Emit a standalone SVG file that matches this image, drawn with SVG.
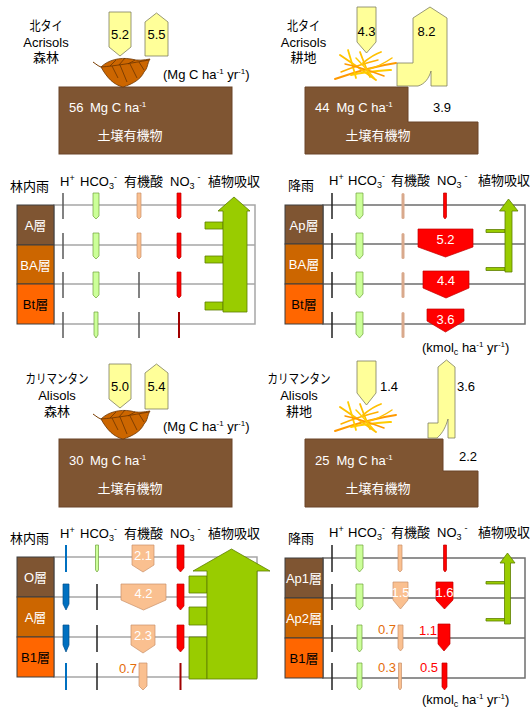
<svg xmlns="http://www.w3.org/2000/svg" width="532" height="710" viewBox="0 0 532 710">
<style>
text { font-family: "Liberation Sans", "Noto Sans CJK JP", sans-serif; font-size: 13px; fill: #000; }
.w { fill: #fff; }
.sm { font-size: 8px; }
.sb { font-size: 9px; }
.c { text-anchor: middle; }
.e { text-anchor: end; }
.or { fill: #E46C0A; }
.rt { fill: #FF0000; }
.soil { fill: #7F5532; stroke: #6B4428; stroke-width: 1; }
.hz { stroke: #3F3F3F; stroke-width: 1; }
.hz-a { fill: #7F5532; }
.hz-b { fill: #CC6600; }
.hz-c { fill: #FF6600; }
.yel { fill: #FFFF99; stroke: #7F7F5F; stroke-width: 0.8; }
.grn { fill: #99CC00; stroke: #5E7F00; stroke-width: 0.8; }
.hco { fill: #CCFF99; stroke: #6FA03A; stroke-width: 0.7; }
.org { fill: #FAC090; stroke: #C8906A; stroke-width: 0.7; }
.tan { fill: #D9A98C; }
.red { fill: #FF0000; stroke: #C00000; stroke-width: 0.7; }
.blu { fill: #0070C0; stroke: #004E8A; stroke-width: 0.7; }
.gl { stroke: #A6A6A6; stroke-width: 1.5; fill: none; }
.gd { stroke: #6E6E6E; stroke-width: 1.5; fill: none; }
.k { stroke: #222; stroke-width: 1.5; fill: none; }
.dg { stroke: #5A5A5A; stroke-width: 1.5; fill: none; }
.dr { stroke: #A00000; stroke-width: 2; fill: none; }
.bl { stroke: #0070C0; stroke-width: 2; fill: none; }
</style>
<defs>
  <!-- fallen leaf litter -->
  <g id="leaf">
    <path d="M93,62 C96,64 98,66 101,67" fill="none" stroke="#7A3D00" stroke-width="1"/>
    <path d="M101,67 C108,60 120,57 131,59 C138,61 144,60 150,59 C147,64 148,68 144,72 C141,79 133,84 123,87 C114,85 107,78 101,67 Z" fill="#CC6600" stroke="#6B3300" stroke-width="0.8"/>
    <path d="M101,67 C115,66 132,63 149,60 M110,66 L116,60 M119,65 L125,58 M128,64 L135,60 M112,66 L118,78 M120,65 L127,82 M130,64 L137,78 M139,62 L144,70" fill="none" stroke="#6B3300" stroke-width="0.8"/>
  </g>
  <!-- crop residue straw -->
  <g id="straw" fill="none" stroke-linecap="round">
    <path d="M335,79 C355,72 375,66 396,63" stroke="#FF9900" stroke-width="2"/>
    <path d="M340,55 C352,63 365,72 376,80" stroke="#FFC000" stroke-width="2"/>
    <path d="M348,50 C351,60 354,70 356,78" stroke="#FFCC00" stroke-width="1.8"/>
    <path d="M363,63 C369,58 375,54 381,52" stroke="#FFC000" stroke-width="1.8"/>
    <path d="M351,75 C364,72 378,71 391,70" stroke="#FFCC00" stroke-width="2"/>
    <path d="M341,72 C353,67 366,63 378,60" stroke="#FFB000" stroke-width="1.5"/>
    <path d="M360,52 C363,60 366,68 370,77" stroke="#FFC000" stroke-width="1.8"/>
    <path d="M345,64 C356,66 368,70 384,76" stroke="#FF9900" stroke-width="1.5"/>
    <path d="M356,58 C362,64 368,71 374,78" stroke="#FFCC00" stroke-width="1.5"/>
    <path d="M366,70 C374,68 382,65 392,58" stroke="#FFC000" stroke-width="1.5"/>
  </g>
</defs>

<!-- ===== Carbon budgets ===== -->
<g id="site-thai-forest">
  <text class="c" x="46" y="30" font-size="12" textLength="33" lengthAdjust="spacingAndGlyphs">北タイ</text>
  <text class="c" x="46" y="47">Acrisols</text>
  <text class="c" x="46" y="62" font-size="12.5">森林</text>
</g>
<g id="soil-thai-forest">
  <rect class="soil" x="59" y="87" width="173" height="67"/>
  <text class="w" x="69" y="112">56<tspan x="90">Mg C ha</tspan><tspan class="sm" dy="-5">-1</tspan></text>
  <text class="w c" x="130" y="140">土壌有機物</text>
</g>
<use id="litter-thai-forest" href="#leaf"/>
<text x="163" y="79">(Mg C ha<tspan class="sm" dy="-5">-1</tspan><tspan dy="5"> yr</tspan><tspan class="sm" dy="-5">-1</tspan><tspan dy="5">)</tspan></text>

<g id="site-thai-field">
  <text class="c" x="303.5" y="30" font-size="12" textLength="33" lengthAdjust="spacingAndGlyphs">北タイ</text>
  <text class="c" x="303.5" y="47">Acrisols</text>
  <text class="c" x="303.5" y="62" font-size="12.5">耕地</text>
</g>
<g id="soil-thai-field">
  <path class="soil" d="M305,87 H408 V122 H478 V154 H305 Z"/>
  <text class="w" x="315" y="112">44<tspan x="336.5">Mg C ha</tspan><tspan class="sm" dy="-5">-1</tspan></text>
  <text class="w c" x="378" y="140">土壌有機物</text>
  <text class="c" x="442" y="112">3.9</text>
</g>
<use id="litter-thai-field" href="#straw"/>

<g id="site-kali-forest">
  <text class="c" x="57" y="383" font-size="12" textLength="63" lengthAdjust="spacingAndGlyphs">カリマンタン</text>
  <text class="c" x="57" y="400">Alisols</text>
  <text class="c" x="57" y="416" font-size="12.5">森林</text>
</g>
<g id="soil-kali-forest">
  <rect class="soil" x="59" y="439" width="173" height="68"/>
  <text class="w" x="69" y="465">30<tspan x="90">Mg C ha</tspan><tspan class="sm" dy="-5">-1</tspan></text>
  <text class="w c" x="130" y="493">土壌有機物</text>
</g>
<use id="litter-kali-forest" href="#leaf" y="352"/>
<text x="163" y="431">(Mg C ha<tspan class="sm" dy="-5">-1</tspan><tspan dy="5"> yr</tspan><tspan class="sm" dy="-5">-1</tspan><tspan dy="5">)</tspan></text>

<g id="site-kali-field">
  <text class="c" x="299" y="383" font-size="12" textLength="63" lengthAdjust="spacingAndGlyphs">カリマンタン</text>
  <text class="c" x="299" y="400">Alisols</text>
  <text class="c" x="299" y="416" font-size="12.5">耕地</text>
</g>
<g id="soil-kali-field">
  <path class="soil" d="M305,439 H443 V471 H478 V507 H305 Z"/>
  <text class="w" x="315" y="465">25<tspan x="336.5">Mg C ha</tspan><tspan class="sm" dy="-5">-1</tspan></text>
  <text class="w c" x="378" y="493">土壌有機物</text>
  <text class="c" x="468" y="461">2.2</text>
</g>
<use id="litter-kali-field" href="#straw" y="352"/>

<!-- carbon flux arrows -->
<g id="carbon-fluxes">
  <path class="yel" d="M109,12 H131 V47 L120,56 L109,47 Z"/>
  <text class="c" x="120" y="39">5.2</text>
  <path class="yel" d="M145,22 L156.5,13 L168,22 V56 H145 Z"/>
  <text class="c" x="156.5" y="39">5.5</text>

  <path class="yel" d="M357,7 H376 V42 L366.5,53 L357,42 Z"/>
  <text class="c" x="366.5" y="36">4.3</text>
  <path class="yel" d="M397,63 L413,63 L413,18 L430,7 L447,18 L447,86 L431,86 L431,71 C429,78 425,84 418,86 L397,86 Z"/>
  <text class="c" x="426.5" y="36">8.2</text>

  <path class="yel" d="M109,364 H131 V399 L120,408 L109,399 Z"/>
  <text class="c" x="120" y="391">5.0</text>
  <path class="yel" d="M145,373 L156.5,364 L168,373 V409 H145 Z"/>
  <text class="c" x="156.5" y="391">5.4</text>

  <path class="yel" d="M357,361 H376 V393 L366.5,405 L357,393 Z"/>
  <text x="380" y="391">1.4</text>
  <path class="yel" d="M428,423 L438,423 L438,367 L446.5,360 L455,367 L455,438 L448,438 L448,419 C446,426 443,433 437,438 L428,438 Z"/>
  <text x="457" y="391">3.6</text>
</g>

<!-- ===== Solute profile: Thai forest ===== -->
<g id="profile-thai-forest">
  <text x="10" y="191">林内雨</text>
  <text x="60" y="186">H<tspan class="sb" dy="-5">+</tspan></text>
  <text x="80" y="186">HCO<tspan class="sb" dy="3">3</tspan><tspan class="sb" dy="-9">-</tspan></text>
  <text x="124" y="186">有機酸</text>
  <text x="170" y="186">NO<tspan class="sb" dy="3">3</tspan><tspan class="sb" dx="3" dy="-9">-</tspan></text>
  <text x="208" y="186">植物吸収</text>
  <rect class="gl" x="54" y="205" width="201" height="119"/>
  <path class="gl" d="M54,245 H255 M54,284 H255"/>
  <rect class="hz hz-a" x="17" y="205" width="37" height="40"/>
  <rect class="hz hz-b" x="17" y="245" width="37" height="39"/>
  <rect class="hz hz-c" x="17" y="284" width="37" height="40"/>
  <text class="w c" x="35.5" y="230">A層</text>
  <text class="w c" x="35.5" y="269.5">BA層</text>
  <text class="c" x="35.5" y="309">Bt層</text>
</g>
<g id="flux-thai-forest">
  <path class="dg" d="M63,193V219 M63,233V259 M63,272V298 M63,312V338"/>
  <path class="hco" d="M93,193H99V216L96,219L93,216Z M93,233H99V256L96,259L93,256Z M93,272H99V295L96,298L93,295Z M94,312H98V335L96,338L94,335Z"/>
  <path class="org" d="M137,193H141V217L139,219L137,217Z M137,233H141V257L139,259L137,257Z"/>
  <path class="dg" d="M139,272V298 M139,312V338"/>
  <path class="red" d="M177,193H181V217L179,219L177,217Z M177,233H181V257L179,259L177,257Z M177,272H181V296L179,298L177,296Z"/>
  <path class="dr" d="M179,312V338"/>
  <path class="grn" d="M205,222 H223 V229 H205 Z M205,256 H223 V263 H205 Z M205,302 H223 V310 H205 Z"/>
  <path class="grn" d="M223,312 V211 H218 L234,197 L250,211 H247 V312 Z"/>
</g>

<!-- ===== Solute profile: Thai field ===== -->
<g id="profile-thai-field">
  <text x="288" y="190">降雨</text>
  <text x="329" y="185">H<tspan class="sb" dy="-5">+</tspan></text>
  <text x="348" y="185">HCO<tspan class="sb" dy="3">3</tspan><tspan class="sb" dy="-9">-</tspan></text>
  <text x="391" y="185">有機酸</text>
  <text x="437" y="185">NO<tspan class="sb" dy="3">3</tspan><tspan class="sb" dx="3" dy="-9">-</tspan></text>
  <text x="478" y="185">植物吸収</text>
  <rect class="gd" x="323" y="205" width="202" height="119"/>
  <path class="gd" d="M323,244 H525 M323,284 H525"/>
  <rect class="hz hz-a" x="285" y="205" width="38" height="39"/>
  <rect class="hz hz-b" x="285" y="244" width="38" height="40"/>
  <rect class="hz hz-c" x="285" y="284" width="38" height="40"/>
  <text class="w c" x="304" y="230">Ap層</text>
  <text class="w c" x="304" y="269">BA層</text>
  <text class="c" x="304" y="309">Bt層</text>
  <text x="422" y="352">(kmol<tspan class="sb" dy="3">c</tspan><tspan dy="-3"> ha</tspan><tspan class="sm" dy="-5">-1</tspan><tspan dy="5"> yr</tspan><tspan class="sm" dy="-5">-1</tspan><tspan dy="5">)</tspan></text>
</g>
<g id="flux-thai-field">
  <path class="k" d="M332,193V219 M332,233V259 M332,272V298 M332,312V338"/>
  <path class="hco" d="M356,193H363V215L359.5,219L356,215Z M356,233H363V255L359.5,259L356,255Z M356,272H363V294L359.5,298L356,294Z M356,312H363V334L359.5,338L356,334Z"/>
  <rect class="tan" x="401.5" y="193" width="3" height="26" rx="1.5"/>
  <rect class="tan" x="401.5" y="233" width="3" height="26" rx="1.5"/>
  <rect class="tan" x="401.5" y="272" width="3" height="26" rx="1.5"/>
  <rect class="tan" x="401.5" y="312" width="3" height="26" rx="1.5"/>
  <path class="red" d="M443.5,193H446.5V217L445,219L443.5,217Z"/>
  <path class="red" d="M418,229 H473 V247 L445.5,257 L418,247 Z"/>
  <path class="red" d="M423,271 H469 V288 L446,298 L423,288 Z"/>
  <path class="red" d="M427,309 H464 V321 L445.5,332 L427,321 Z"/>
  <text class="w c" x="445.5" y="244">5.2</text>
  <text class="w c" x="446" y="285">4.4</text>
  <text class="w c" x="445.5" y="324">3.6</text>
  <path class="grn" d="M486,229.5 H505 V232.5 H486 Z M486,267.5 H505 V270.5 H486 Z"/>
  <path class="grn" d="M505,272 V211 H499.5 L508.5,199 L518,211 H512 V272 Z"/>
</g>

<!-- ===== Solute profile: Kalimantan forest ===== -->
<g id="profile-kali-forest">
  <text x="10" y="543">林内雨</text>
  <text x="60" y="538">H<tspan class="sb" dy="-5">+</tspan></text>
  <text x="80" y="538">HCO<tspan class="sb" dy="3">3</tspan><tspan class="sb" dy="-9">-</tspan></text>
  <text x="124" y="538">有機酸</text>
  <text x="170" y="538">NO<tspan class="sb" dy="3">3</tspan><tspan class="sb" dx="3" dy="-9">-</tspan></text>
  <text x="208" y="538">植物吸収</text>
  <rect class="gl" x="54" y="557" width="203" height="120"/>
  <path class="gl" d="M54,597 H257 M54,637 H257"/>
  <rect class="hz hz-a" x="17" y="557" width="37" height="40"/>
  <rect class="hz hz-b" x="17" y="597" width="37" height="40"/>
  <rect class="hz hz-c" x="17" y="637" width="37" height="40"/>
  <text class="w c" x="35.5" y="582">O層</text>
  <text class="w c" x="35.5" y="622">A層</text>
  <text class="c" x="35.5" y="662">B1層</text>
</g>
<g id="flux-kali-forest">
  <path class="bl" d="M66,545V572 M66,663V690"/>
  <path class="blu" d="M63,584H69V604L66,610L63,604Z M63,625H69V645L66,652L63,645Z"/>
  <path class="hco" d="M95.5,545H98.5V570L97,572L95.5,570Z"/>
  <path class="k" d="M97,584V610 M97,625V652 M97,663V690"/>
  <path class="org" d="M132,545 H154 V565 L143,572 L132,565 Z"/>
  <path class="org" d="M121,584 H166 V600 L143.5,610 L121,600 Z"/>
  <path class="org" d="M131,625 H155 V645 L143,653 L131,645 Z"/>
  <path class="org" d="M139,663 H147 V686 L143,690 L139,686 Z"/>
  <text class="w c" x="143" y="560">2.1</text>
  <text class="w c" x="143.5" y="598">4.2</text>
  <text class="w c" x="143" y="640">2.3</text>
  <text class="or e" x="137" y="673">0.7</text>
  <path class="red" d="M177,545H184V568L180.5,572L177,568Z M177,584H184V606L180.5,610L177,606Z M177,625H184V648L180.5,652L177,648Z"/>
  <path class="dr" d="M180.5,663V690"/>
  <path class="grn" d="M189,576 H207 V593 H189 Z M189,607 H207 V625 H189 Z M189,637 H207 V679 H189 Z"/>
  <path class="grn" d="M207,679 V571 H193 L231.5,549 L270,571 H257 V679 Z"/>
</g>

<!-- ===== Solute profile: Kalimantan field ===== -->
<g id="profile-kali-field">
  <text x="288" y="543">降雨</text>
  <text x="329" y="537">H<tspan class="sb" dy="-5">+</tspan></text>
  <text x="348" y="537">HCO<tspan class="sb" dy="3">3</tspan><tspan class="sb" dy="-9">-</tspan></text>
  <text x="391" y="537">有機酸</text>
  <text x="437" y="537">NO<tspan class="sb" dy="3">3</tspan><tspan class="sb" dx="3" dy="-9">-</tspan></text>
  <text x="478" y="537">植物吸収</text>
  <rect class="gd" x="323" y="558" width="202" height="120"/>
  <path class="gd" d="M323,598 H525 M323,638 H525"/>
  <rect class="hz hz-a" x="285" y="558" width="38" height="40"/>
  <rect class="hz hz-b" x="285" y="598" width="38" height="40"/>
  <rect class="hz hz-c" x="285" y="638" width="38" height="40"/>
  <text class="w c" x="304" y="583">Ap1層</text>
  <text class="w c" x="304" y="623">Ap2層</text>
  <text class="c" x="304" y="663">B1層</text>
  <text x="422" y="704">(kmol<tspan class="sb" dy="3">c</tspan><tspan dy="-3"> ha</tspan><tspan class="sm" dy="-5">-1</tspan><tspan dy="5"> yr</tspan><tspan class="sm" dy="-5">-1</tspan><tspan dy="5">)</tspan></text>
</g>
<g id="flux-kali-field">
  <path class="k" d="M332,545V572 M332,584V610 M332,625V652 M332,663V690"/>
  <path class="hco" d="M356,545H363V568L359.5,572L356,568Z M356,584H363V606L359.5,610L356,606Z M357,625H362V649L359.5,652L357,649Z M357,663H362V687L359.5,690L357,687Z"/>
  <path class="org" d="M398,545H402V570L400,572L398,570Z M393,582H408V600L400.5,609L393,600Z M398,625H403V648L400.5,651L398,648Z M398.5,663H401.5V688L400,690L398.5,688Z"/>
  <path class="red" d="M443.5,545H446.5V570L445,572L443.5,570Z M436,582H453V600L444.5,609L436,600Z M438,624H450V644L444,651L438,644Z M442,663H447V687L444.5,690L442,687Z"/>
  <text class="w c" x="400.5" y="597">1.5</text>
  <text class="w c" x="444.5" y="597">1.6</text>
  <text class="or e" x="396" y="634">0.7</text>
  <text class="rt e" x="437" y="635">1.1</text>
  <text class="or e" x="396" y="672">0.3</text>
  <text class="rt e" x="438" y="672">0.5</text>
  <path class="grn" d="M486,581.5 H505 V584 H486 Z M486,618.5 H505 V621 H486 Z"/>
  <path class="grn" d="M504.5,624 V563 H500 L507.5,553 L515,563 H510.5 V624 Z"/>
</g>
</svg>
